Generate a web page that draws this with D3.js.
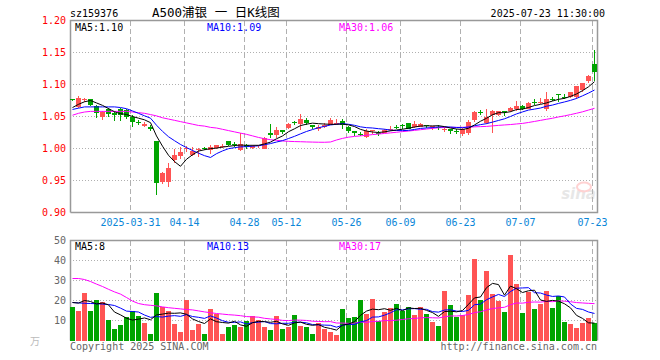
<!DOCTYPE html>
<html><head><meta charset="utf-8">
<script src="https://cdn.jsdelivr.net/npm/d3@7"></script>
<style>html,body{margin:0;padding:0;background:#fff;} svg{display:block;}</style>
</head><body>
<svg id="c" width="660" height="360"></svg>
<script>
// ---------------- DATA ----------------
const dates = [
"2025-03-17","2025-03-18","2025-03-19","2025-03-20","2025-03-21","2025-03-24","2025-03-25","2025-03-26","2025-03-27","2025-03-28",
"2025-03-31","2025-04-01","2025-04-02","2025-04-03","2025-04-07","2025-04-08","2025-04-09","2025-04-10","2025-04-11","2025-04-14",
"2025-04-15","2025-04-16","2025-04-17","2025-04-18","2025-04-21","2025-04-22","2025-04-23","2025-04-24","2025-04-25","2025-04-28",
"2025-04-29","2025-04-30","2025-05-06","2025-05-07","2025-05-08","2025-05-09","2025-05-12","2025-05-13","2025-05-14","2025-05-15",
"2025-05-16","2025-05-19","2025-05-20","2025-05-21","2025-05-22","2025-05-23","2025-05-26","2025-05-27","2025-05-28","2025-05-29",
"2025-05-30","2025-06-03","2025-06-04","2025-06-05","2025-06-06","2025-06-09","2025-06-10","2025-06-11","2025-06-12","2025-06-13",
"2025-06-16","2025-06-17","2025-06-18","2025-06-19","2025-06-20","2025-06-23","2025-06-24","2025-06-25","2025-06-26","2025-06-27",
"2025-06-30","2025-07-01","2025-07-02","2025-07-03","2025-07-04","2025-07-07","2025-07-08","2025-07-09","2025-07-10","2025-07-11",
"2025-07-14","2025-07-15","2025-07-16","2025-07-17","2025-07-18","2025-07-21","2025-07-22","2025-07-23"];
const open  = [1.077,1.065,1.076,1.077,1.066,1.050,1.061,1.056,1.062,1.060,
               1.049,1.042,1.035,1.034,1.011,0.947,0.947,0.982,0.988,0.999,
               0.990,0.998,1.001,0.998,1.001,1.003,1.011,1.007,0.997,1.005,
               1.001,1.004,1.000,1.025,1.021,1.029,1.032,1.041,1.038,1.045,
               1.037,1.030,1.034,1.037,1.039,1.043,1.033,1.027,1.0225,1.018,
               1.028,1.024,1.025,1.029,1.034,1.036,1.040,1.033,1.034,1.037,
               1.034,1.033,1.030,1.031,1.028,1.022,1.024,1.045,1.0565,1.040,
               1.052,1.053,1.058,1.058,1.062,1.067,1.062,1.0725,1.072,1.062,
               1.078,1.085,1.081,1.080,1.080,1.091,1.106,1.132];
const high  = [1.078,1.082,1.079,1.078,1.068,1.058,1.063,1.059,1.064,1.061,
               1.053,1.045,1.041,1.0375,1.012,0.963,0.977,0.999,1.003,1.004,
               1.002,1.001,1.003,1.005,1.006,1.007,1.012,1.010,1.025,1.007,
               1.006,1.006,1.018,1.038,1.033,1.029,1.040,1.043,1.054,1.047,
               1.037,1.036,1.040,1.048,1.046,1.046,1.035,1.027,1.026,1.031,
               1.029,1.028,1.031,1.035,1.036,1.039,1.040,1.043,1.040,1.0375,
               1.035,1.036,1.033,1.031,1.030,1.032,1.044,1.058,1.060,1.062,
               1.060,1.059,1.058,1.065,1.075,1.068,1.072,1.077,1.079,1.088,
               1.080,1.085,1.085,1.088,1.098,1.103,1.115,1.154];
const low   = [1.075,1.064,1.073,1.067,1.048,1.045,1.050,1.043,1.043,1.046,
               1.033,1.037,1.034,1.027,0.928,0.945,0.940,0.978,0.983,0.995,
               0.988,0.986,0.997,0.992,1.000,1.001,1.004,1.003,0.996,1.000,
               1.000,1.001,0.999,1.017,1.017,1.022,1.030,1.037,1.029,1.0375,
               1.030,1.027,1.032,1.036,1.037,1.030,1.0245,1.020,1.019,1.0165,
               1.022,1.0195,1.024,1.027,1.030,1.031,1.030,1.032,1.033,1.032,
               1.029,1.029,1.026,1.023,1.023,1.019,1.021,1.041,1.052,1.038,
               1.025,1.051,1.051,1.057,1.059,1.060,1.061,1.068,1.069,1.058,
               1.074,1.072,1.077,1.079,1.078,1.089,1.102,1.106];
const close = [1.076,1.079,1.077,1.068,1.056,1.057,1.054,1.052,1.053,1.050,
               1.041,1.041,1.039,1.031,0.946,0.961,0.970,0.990,0.994,1.001,
               0.996,0.999,1.000,1.003,1.005,1.004,1.005,1.006,1.007,1.003,
               1.004,1.005,1.017,1.021,1.029,1.026,1.038,1.040,1.046,1.040,
               1.034,1.034,1.037,1.044,1.040,1.0365,1.027,1.024,1.022,1.027,
               1.029,1.023,1.029,1.030,1.0335,1.035,1.031,1.038,1.038,1.035,
               1.0345,1.0325,1.031,1.027,1.027,1.031,1.042,1.057,1.056,1.050,
               1.059,1.058,1.057,1.0635,1.067,1.062,1.071,1.072,1.073,1.078,
               1.077,1.084,1.080,1.088,1.097,1.103,1.114,1.120];
const volume = [17,15,24,15,20.3,19.5,10.3,6,8,11.8,
                15,12.5,9,3.5,24,17,15,8.5,4.5,20.5,
                5.5,8.5,3.5,16,13.5,3.5,7,8,7,10,
                12.5,10.5,7,5.5,12.5,6,7,13,7.5,7,
                3.5,9,6,4.5,3,16,11.5,12,20.5,13.5,
                21,10,14.5,16.5,18.5,15,17,13,17,13.3,
                9.5,7.5,25,18,11.7,12.8,23,41,20.3,35,
                23.5,20,14.5,43,28.5,14,24.3,16,18.5,25,
                16.5,22.3,9.5,8.3,6.3,8.8,11.3,8.8];
// moving-average values before a full window exists
const ma5Head  = [1.064,1.069,1.073,1.075];
const ma10Head = [1.061,1.063,1.065,1.065,1.065,1.065,1.065,1.065,1.064];
const ma30Head = [1.052,1.055,1.057,1.058,1.058,1.058,1.058,1.058,1.058,1.058,
                  1.057,1.056,1.055,1.053,1.051,1.048,1.046,1.044,1.042,1.040,
                  1.038,1.036,1.035,1.033,1.032,1.030,1.028,1.026,1.024];
const vma5Head  = [19,18.7,20,19.5];
const vma10Head = [19,18.8,18.6,18.5,18.4,18.2,18,17.5,16.2];
const vma30Head = [31,31,30.5,29.5,28.2,27,25.6,24.3,23.2,21.5,
                   19.7,18.5,17.9,17.6,17.3,16.8,16.4,16.1,15.8,15.5,
                   15.3,14.8,14.3,13.9,13.5,13.2,12.9,12.7,12.4];
const priceTicks = [0.90,0.95,1.00,1.05,1.10,1.15,1.20];
const volTicks = [10,20,30,40,50];
const dateTicks = ["2025-03-31","2025-04-14","2025-04-28","2025-05-12","2025-05-26","2025-06-09","2025-06-23","2025-07-07","2025-07-23"];
const dateTickLabels = ["2025-03-31","04-14","04-28","05-12","05-26","06-09","06-23","07-07","07-23"];
const priceLegend = ["MA5:1.10","MA10:1.09","MA30:1.06"];
const volLegend = ["MA5:8","MA10:13","MA30:17"];
const code = "sz159376";
const title = "A500浦银 一 日K线图";
const stamp = "2025-07-23 11:30:00";

// ---------------- DRAW ----------------
const UP = "#ff5454", DOWN = "#00a400";
const MA_COL = ["#000000","#0000ff","#ff00ff"];
const MONO = "'DejaVu Sans Mono', monospace";
const svg = d3.select("#c");

const idx = d3.range(dates.length);
const x = d3.scaleBand().domain(idx).range([69.5, 597.5]);
const cx = i => x(i) + x.bandwidth()/2;
const y = d3.scaleLinear().domain([0.90, 1.20]).range([212.5, 20.5]);
const yv = d3.scaleLinear().domain([0, 50]).range([340.5, 240.5]);

function movingAvg(arr, n, head){
  return arr.map((_, i) => i < n-1 ? head[i] : d3.mean(arr.slice(i-n+1, i+1)));
}
const pMA = [movingAvg(close,5,ma5Head), movingAvg(close,10,ma10Head), movingAvg(close,30,ma30Head)];
const vMA = [movingAvg(volume,5,vma5Head), movingAvg(volume,10,vma10Head), movingAvg(volume,30,vma30Head)];

// grids
const gridCol = "#b0b0b0";
function panelGrid(yScale, ticks, top, bottom){
  svg.append("g").selectAll("line").data(ticks).join("line")
    .attr("x1", 70).attr("x2", 597.5)
    .attr("y1", d => yScale(d)).attr("y2", d => yScale(d))
    .attr("stroke", gridCol).attr("stroke-width", 1).attr("stroke-dasharray", "1,2");
  svg.append("g").selectAll("line").data(dateTicks).join("line")
    .attr("x1", d => x(dates.indexOf(d)) + 1).attr("x2", d => x(dates.indexOf(d)) + 1)
    .attr("y1", top).attr("y2", bottom)
    .attr("stroke", gridCol).attr("stroke-width", 1).attr("stroke-dasharray", "5,3");
}
panelGrid(y, priceTicks.filter(d => d > 0.9 && d < 1.2), 21, 212);
panelGrid(yv, volTicks.filter(d => d < 50), 241, 340);

// watermark
const wm = svg.append("g").attr("opacity", 0.35);
wm.append("text").attr("x", 596).attr("y", 199).attr("text-anchor", "end")
  .attr("font-family", "'DejaVu Sans', sans-serif").attr("font-size", 15).attr("font-style", "italic")
  .attr("font-weight", "bold").attr("fill", "#bbbbbb").text("sina");
wm.append("ellipse").attr("cx", 584).attr("cy", 187).attr("rx", 7).attr("ry", 4.5)
  .attr("fill", "none").attr("stroke", "#ff8080").attr("stroke-width", 2);

// frames
svg.append("path").attr("d", "M70.5,212.5V20.5H597.5V212.5H70.5").attr("fill", "none")
  .attr("stroke", "#999").attr("stroke-width", 1.5);
svg.append("path").attr("d", "M70.5,340.5V240.5H597.5V340.5").attr("fill", "none")
  .attr("stroke", "#999").attr("stroke-width", 1.5);

// price axis labels
svg.append("g").selectAll("text").data(priceTicks).join("text")
  .attr("x", 66).attr("y", d => y(d)).attr("dy", "0.35em").attr("text-anchor", "end")
  .attr("font-family", MONO).attr("font-size", 10).attr("fill", "#ff0000")
  .text(d => d3.format(".2f")(d));
// volume axis labels
svg.append("g").selectAll("text").data(volTicks).join("text")
  .attr("x", 66).attr("y", d => yv(d)).attr("dy", "0.35em").attr("text-anchor", "end")
  .attr("font-family", MONO).attr("font-size", 10).attr("fill", "#666")
  .text(d => d);
svg.append("text").attr("x", 30).attr("y", 341).attr("dy", "0.35em")
  .attr("font-family", "'Noto Sans CJK SC', sans-serif").attr("font-size", 10).attr("fill", "#bbb").text("万");

// date labels
svg.append("g").selectAll("text").data(dateTicks).join("text")
  .attr("x", (d, k) => x(dates.indexOf(d)) + 1).attr("y", 222).attr("dy", "0.35em")
  .attr("text-anchor", "middle").attr("font-family", MONO).attr("font-size", 10).attr("fill", "#0a86d8")
  .text((d, k) => dateTickLabels[k]);

// volume bars
svg.append("g").selectAll("rect").data(idx).join("rect")
  .attr("x", i => x(i) + 0.5).attr("width", 5)
  .attr("y", i => yv(volume[i])).attr("height", i => 340.5 - yv(volume[i]))
  .attr("fill", i => close[i] >= open[i] ? UP : DOWN).attr("shape-rendering", "crispEdges");

// candles
const cg = svg.append("g").attr("shape-rendering", "crispEdges");
cg.selectAll("line").data(idx).join("line")
  .attr("x1", i => cx(i)).attr("x2", i => cx(i))
  .attr("y1", i => y(high[i])).attr("y2", i => y(low[i]))
  .attr("stroke", i => close[i] >= open[i] ? UP : DOWN).attr("stroke-width", 1);
cg.selectAll("rect").data(idx).join("rect")
  .attr("x", i => x(i) + 0.5).attr("width", 5)
  .attr("y", i => y(Math.max(open[i], close[i])))
  .attr("height", i => Math.max(1, Math.abs(y(open[i]) - y(close[i]))))
  .attr("fill", i => close[i] >= open[i] ? UP : DOWN);

// MA lines
const linePrice = d3.line().x((d, i) => cx(i)).y(d => y(d));
const lineVol = d3.line().x((d, i) => cx(i)).y(d => yv(d));
[2,1,0].forEach(k => {
  svg.append("path").attr("d", linePrice(pMA[k])).attr("fill", "none").attr("stroke", MA_COL[k]).attr("stroke-width", 1);
  svg.append("path").attr("d", lineVol(vMA[k])).attr("fill", "none").attr("stroke", MA_COL[k]).attr("stroke-width", 1);
});

// legends
const legX = [75, 207, 339];
priceLegend.forEach((t, k) => svg.append("text").attr("x", legX[k]).attr("y", 27).attr("dy", "0.35em")
  .attr("font-family", MONO).attr("font-size", 10).attr("fill", MA_COL[k]).text(t));
volLegend.forEach((t, k) => svg.append("text").attr("x", legX[k]).attr("y", 246).attr("dy", "0.35em")
  .attr("font-family", MONO).attr("font-size", 10).attr("fill", MA_COL[k]).text(t));

// header
svg.append("text").attr("x", 70).attr("y", 13).attr("dy", "0.35em").attr("font-family", MONO)
  .attr("font-size", 10).attr("fill", "#000").text(code);
svg.append("text").attr("x", 152).attr("y", 13).attr("dy", "0.35em")
  .attr("font-family", "'DejaVu Sans Mono', 'Noto Sans CJK SC', monospace")
  .attr("font-size", 12.5).attr("fill", "#000").text(title);
svg.append("text").attr("x", 605).attr("y", 13).attr("dy", "0.35em").attr("text-anchor", "end")
  .attr("font-family", MONO).attr("font-size", 10).attr("fill", "#000").text(stamp);

// footer
svg.append("text").attr("x", 70).attr("y", 346).attr("dy", "0.35em").attr("font-family", MONO)
  .attr("font-size", 10).attr("fill", "#666").text("Copyright 2025 SINA.COM");
svg.append("text").attr("x", 597).attr("y", 346).attr("dy", "0.35em").attr("text-anchor", "end")
  .attr("font-family", MONO).attr("font-size", 10).attr("fill", "#666").text("http://finance.sina.com.cn");
</script>
</body></html>
